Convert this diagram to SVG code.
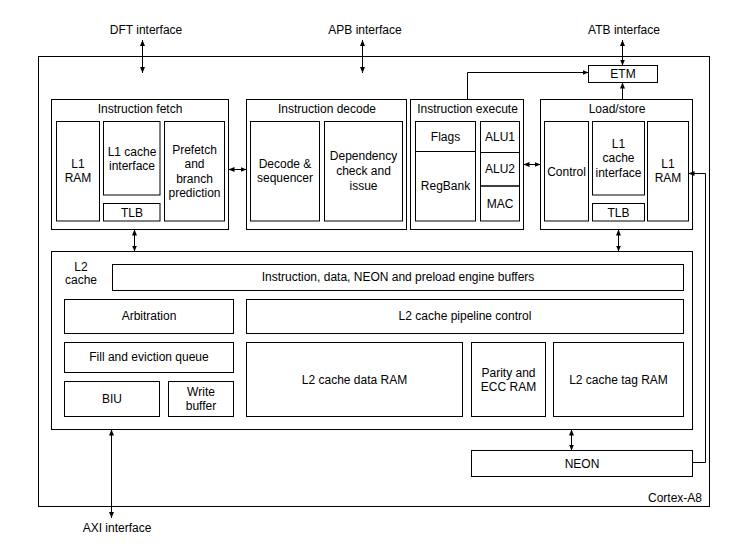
<svg xmlns="http://www.w3.org/2000/svg" width="746" height="546" viewBox="0 0 746 546">
<defs>
<marker id="ah" viewBox="0 0 6 6" refX="6" refY="3" markerWidth="6" markerHeight="6" markerUnits="userSpaceOnUse" orient="auto-start-reverse">
<path d="M0,0.5 L6,3 L0,5.5 z" fill="#000"/>
</marker>
<style>
rect{fill:none;stroke:#000;stroke-width:1}
text{font-family:"Liberation Sans",Arial,sans-serif;font-size:12px;fill:#000;text-anchor:middle}
.c path,.c line{fill:none;stroke:#000;stroke-width:1}
.d{marker-start:url(#ah);marker-end:url(#ah)}
.s{marker-end:url(#ah)}
</style>
</defs>
<rect x="0" y="0" width="746" height="546" style="fill:#fff;stroke:none"/>
<g id="cortex-a8">
<rect x="38.5" y="56.5" width="671" height="450"/>
<text x="702" y="502" style="text-anchor:end">Cortex-A8</text>
</g>
<g id="labels">
<text x="146" y="34">DFT interface</text>
<text x="365" y="34">APB interface</text>
<text x="624" y="34">ATB interface</text>
<text x="117" y="532">AXI interface</text>
</g>
<g id="etm"><rect x="588.5" y="65.5" width="69" height="17"/><text x="623" y="78">ETM</text></g>
<g id="instruction-fetch">
<rect x="51.5" y="99.5" width="177" height="130"/>
<text x="140" y="113">Instruction fetch</text>
<g id="if-l1ram"><rect x="56.5" y="121.5" width="43" height="99.5"/><text x="78" y="168">L1</text><text x="78" y="182">RAM</text></g>
<g id="if-l1ci"><rect x="103.5" y="121.5" width="56.5" height="73.5"/><text x="132" y="155.5">L1 cache</text><text x="132" y="169.5">interface</text></g>
<g id="if-tlb"><rect x="103.5" y="203.5" width="56.5" height="17.5"/><text x="132" y="216.5">TLB</text></g>
<g id="if-prefetch"><rect x="164.5" y="121.5" width="60" height="99.5"/><text x="194.5" y="153.5">Prefetch</text><text x="194.5" y="168">and</text><text x="194.5" y="182.5">branch</text><text x="194.5" y="197">prediction</text></g>
</g>
<g id="instruction-decode">
<rect x="246.5" y="99.5" width="160" height="130"/>
<text x="327" y="113">Instruction decode</text>
<g id="id-decode"><rect x="250.5" y="121.5" width="69" height="99.5"/><text x="285" y="168">Decode &amp;</text><text x="285" y="182">sequencer</text></g>
<g id="id-dep"><rect x="324.5" y="121.5" width="78" height="99.5"/><text x="363.5" y="160">Dependency</text><text x="363.5" y="175">check and</text><text x="363.5" y="190">issue</text></g>
</g>
<g id="instruction-execute">
<rect x="410.5" y="99.5" width="113" height="130"/>
<text x="467.5" y="113">Instruction execute</text>
<g id="ie-flags"><rect x="415.5" y="121.5" width="60" height="30"/><text x="445.5" y="140.5">Flags</text></g>
<g id="ie-regbank"><rect x="415.5" y="151.5" width="60" height="69.5"/><text x="445.5" y="190">RegBank</text></g>
<g id="ie-alu1"><rect x="480.5" y="121.5" width="39" height="31"/><text x="500" y="141">ALU1</text></g>
<g id="ie-alu2"><rect x="480.5" y="152.5" width="39" height="33.5"/><text x="500" y="172.5">ALU2</text></g>
<g id="ie-mac"><rect x="480.5" y="186" width="39" height="35"/><text x="500" y="207.5">MAC</text></g>
</g>
<g id="load-store">
<rect x="540.5" y="99.5" width="152" height="130"/>
<text x="617" y="113">Load/store</text>
<g id="ls-control"><rect x="544.5" y="121.5" width="44" height="99.5"/><text x="566.5" y="175.5">Control</text></g>
<g id="ls-l1ci"><rect x="592.5" y="121.5" width="52" height="73.5"/><text x="618.5" y="148">L1</text><text x="618.5" y="162">cache</text><text x="618.5" y="176.5">interface</text></g>
<g id="ls-tlb"><rect x="592.5" y="203.5" width="52" height="17.5"/><text x="618.5" y="216.5">TLB</text></g>
<g id="ls-l1ram"><rect x="647.5" y="121.5" width="41" height="99.5"/><text x="668" y="168">L1</text><text x="668" y="182">RAM</text></g>
</g>
<g id="l2-cache">
<rect x="51.5" y="251.5" width="641" height="178"/>
<text x="81" y="271">L2</text><text x="81" y="284">cache</text>
<g id="l2-buffers"><rect x="112.5" y="264.5" width="571" height="26"/><text x="398" y="281">Instruction, data, NEON and preload engine buffers</text></g>
<g id="l2-arb"><rect x="64.5" y="299.5" width="169" height="34"/><text x="149" y="320">Arbitration</text></g>
<g id="l2-pipe"><rect x="246.5" y="299.5" width="437" height="34"/><text x="465" y="320">L2 cache pipeline control</text></g>
<g id="l2-fill"><rect x="64.5" y="342.5" width="169" height="30"/><text x="149" y="361">Fill and eviction queue</text></g>
<g id="l2-biu"><rect x="64.5" y="381.5" width="95" height="35"/><text x="112" y="402.5">BIU</text></g>
<g id="l2-wb"><rect x="168.5" y="381.5" width="65" height="35"/><text x="201" y="396">Write</text><text x="201" y="410">buffer</text></g>
<g id="l2-data"><rect x="246.5" y="342.5" width="216" height="74"/><text x="354.5" y="383.5">L2 cache data RAM</text></g>
<g id="l2-parity"><rect x="471.5" y="342.5" width="74" height="74"/><text x="508.5" y="376.5">Parity and</text><text x="508.5" y="390.5">ECC RAM</text></g>
<g id="l2-tag"><rect x="553.5" y="342.5" width="130" height="74"/><text x="618.5" y="383.5">L2 cache tag RAM</text></g>
</g>
<g id="neon"><rect x="471.5" y="450.5" width="221" height="26"/><text x="582" y="467.5">NEON</text></g>
<g id="connectors" class="c">
<line class="d" x1="142.5" y1="40" x2="142.5" y2="73"/>
<line class="d" x1="362.5" y1="40" x2="362.5" y2="73"/>
<line class="d" x1="622.5" y1="40" x2="622.5" y2="65.5"/>
<line class="d" x1="228.5" y1="169.5" x2="246.5" y2="169.5"/>
<line class="d" x1="523.5" y1="164.5" x2="540.5" y2="164.5"/>
<path class="s" d="M467.5,99.5 V72.5 H588.5"/>
<path class="s" d="M622.5,99.5 V82.5"/>
<line class="d" x1="134.5" y1="229.5" x2="134.5" y2="251.5"/>
<line class="d" x1="618.5" y1="229.5" x2="618.5" y2="251.5"/>
<line class="d" x1="571.5" y1="429.5" x2="571.5" y2="450.5"/>
<path class="s" d="M692.5,462.5 H705.5 V173.5 H688.5"/>
<line class="d" x1="111.5" y1="429.5" x2="111.5" y2="518"/>
</g>
</svg>
